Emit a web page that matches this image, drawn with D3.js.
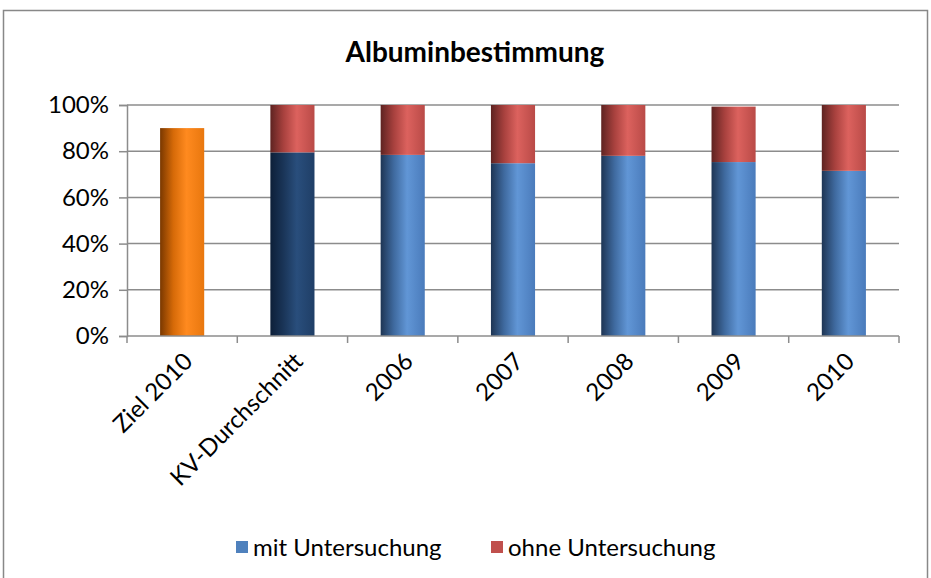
<!DOCTYPE html>
<html><head><meta charset="utf-8">
<script src="https://cdn.jsdelivr.net/npm/d3@7"></script>
<style>body{margin:0;background:#fff}</style>
</head><body>
<script>
const categories = ["Ziel 2010","KV-Durchschnitt","2006","2007","2008","2009","2010"];
const mitValues  = [90, 79.5, 78.4, 74.8, 78, 75.3, 71.5];
const ohneValues = [0, 20.5, 21.6, 25.2, 22, 24, 28.5];
const yTicks = [0,20,40,60,80,100];
const seriesNames = ["mit Untersuchung","ohne Untersuchung"];

const W=931,H=578;
const svg=d3.select("body").append("svg").attr("width",W).attr("height",H);
const defs=svg.append("defs");
function grad(id,stops){
  const g=defs.append("linearGradient").attr("id",id).attr("x1","0").attr("x2","1").attr("y1","0").attr("y2","0");
  stops.forEach(s=>g.append("stop").attr("offset",s[0]).attr("stop-color",s[1]));
}
grad("gBlue",[[0,"#1e3554"],[0.3,"#3f6a9f"],[0.6,"#6196d6"],[1,"#4a7bbb"]]);
grad("gRed",[[0,"#5e2321"],[0.3,"#a8413e"],[0.6,"#dc625e"],[1,"#b94a47"]]);
grad("gOrange",[[0,"#7a3800"],[0.3,"#d66a08"],[0.6,"#ff8a1f"],[1,"#e8770e"]]);
grad("gNavy",[[0,"#0d1f38"],[0.3,"#1a3558"],[0.6,"#294e7c"],[1,"#1f3e66"]]);

svg.append("rect").attr("x",3.5).attr("y",10.5).attr("width",924).attr("height",570)
  .attr("fill","#fff").attr("stroke","#888").attr("stroke-width",1.5);

const font="Lato, 'Open Sans', sans-serif";
svg.append("text").attr("x",475).attr("y",62).attr("text-anchor","middle")
  .attr("font-family",font).attr("font-weight","bold").attr("font-size",28).attr("fill","#000")
  .text("Albuminbestimmung");

const x=d3.scaleBand().domain(categories).range([127,899]).paddingInner(0.6).paddingOuter(0.3);
const xb=d3.scaleBand().domain(categories).range([127,899]);
const y=d3.scaleLinear().domain([0,100]).range([336,105]);

// gridlines
svg.append("g").selectAll("line").data(yTicks.filter(d=>d>0)).join("line")
  .attr("x1",127).attr("x2",899).attr("y1",d=>y(d)).attr("y2",d=>y(d))
  .attr("stroke","#8c8c8c").attr("stroke-width",1.5);

// y axis
const ya=svg.append("g").attr("transform","translate(127,0)")
  .call(d3.axisLeft(y).tickValues(yTicks).tickFormat(d=>d+"%").tickSize(8).tickPadding(10));
ya.select(".domain").attr("stroke","#8c8c8c").attr("stroke-width",1.5);
ya.selectAll(".tick line").attr("stroke","#8c8c8c").attr("stroke-width",1.5);
ya.selectAll("text").attr("font-family",font).attr("font-size",24).attr("fill","#000");

// bars
const fills1=["url(#gOrange)","url(#gNavy)","url(#gBlue)","url(#gBlue)","url(#gBlue)","url(#gBlue)","url(#gBlue)"];
svg.append("g").selectAll("rect").data(categories).join("rect")
  .attr("x",d=>x(d)).attr("width",x.bandwidth())
  .attr("y",(d,i)=>y(mitValues[i])).attr("height",(d,i)=>y(0)-y(mitValues[i]))
  .attr("fill",(d,i)=>fills1[i]);
svg.append("g").selectAll("rect").data(categories).join("rect")
  .attr("x",d=>x(d)).attr("width",x.bandwidth())
  .attr("y",(d,i)=>y(mitValues[i]+ohneValues[i])).attr("height",(d,i)=>y(mitValues[i])-y(mitValues[i]+ohneValues[i]))
  .attr("fill","url(#gRed)");

// x axis
const xg=svg.append("g");
xg.append("line").attr("x1",127).attr("x2",899).attr("y1",y(0)).attr("y2",y(0)).attr("stroke","#8c8c8c").attr("stroke-width",1.5);
const bounds=categories.map(c=>xb(c)).concat([xb.range()[1]]);
xg.selectAll(".tk").data(bounds).join("line").attr("class","tk")
  .attr("x1",d=>d).attr("x2",d=>d).attr("y1",y(0)).attr("y2",y(0)+7)
  .attr("stroke","#8c8c8c").attr("stroke-width",1.5);
xg.selectAll("text").data(categories).join("text")
  .attr("transform",d=>`translate(${xb(d)+xb.bandwidth()/2+6},${y(0)+21}) rotate(-45)`)
  .attr("text-anchor","end").attr("dy","0.35em")
  .attr("font-family",font).attr("font-size",24).attr("fill","#000").text(d=>d);

// legend
const leg=svg.append("g");
const legItems=[{n:seriesNames[0],c:"#4f81bd",x:236},{n:seriesNames[1],c:"#c0504d",x:491}];
leg.selectAll("rect").data(legItems).join("rect").attr("x",d=>d.x).attr("y",541).attr("width",12).attr("height",12).attr("fill",d=>d.c);
leg.selectAll("text").data(legItems).join("text").attr("x",d=>d.x+17).attr("y",548).attr("dy","0.35em")
  .attr("font-family",font).attr("font-size",24).attr("fill","#000").text(d=>d.n);
</script>
</body></html>
